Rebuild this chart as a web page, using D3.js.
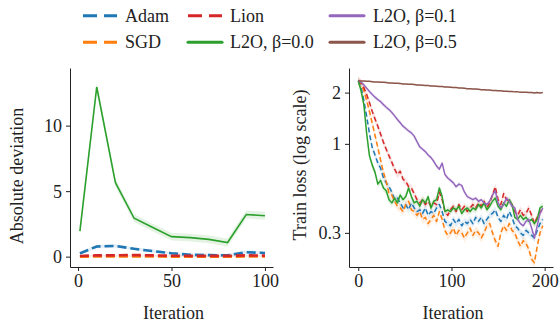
<!DOCTYPE html>
<html>
<head>
<meta charset="utf-8">
<script src="https://cdn.jsdelivr.net/npm/d3@7"></script>
<style>
  html, body { margin: 0; padding: 0; background: #fff; }
  svg { display: block; }
  svg text { font-family: "Liberation Serif", "Times New Roman", serif !important; }
</style>
</head>
<body>
<svg id="chart" width="560" height="327"></svg>
<script>
// ---- data ----
const seriesNames = ["Adam", "SGD", "Lion", "L2O, β=0.0", "L2O, β=0.1", "L2O, β=0.5"];
const seriesColors = ["#1f77b4", "#ff7f0e", "#d62728", "#2ca02c", "#9467bd", "#8c564b"];
const seriesDashed = [true, true, true, false, false, false];

// Left panel: absolute deviation vs iteration
const devIterations = [1, 10, 20, 30, 40, 50, 60, 70, 80, 90, 100];
const devAdam = [0.25, 0.78, 0.82, 0.60, 0.42, 0.26, 0.14, 0.12, 0.10, 0.34, 0.28];
const devSGD  = [0.00, 0.01, 0.01, 0.01, 0.01, 0.00, 0.00, 0.00, 0.00, 0.01, 0.01];
const devLion = [0.05, 0.10, 0.10, 0.12, 0.10, 0.07, 0.06, 0.06, 0.06, 0.10, 0.08];
const devL2O  = [1.95, 12.95, 5.65, 2.93, 2.22, 1.53, 1.45, 1.32, 1.08, 3.22, 3.12];
const devSpread = [0.12, 0.04, 0.05, 0.3];   // half-width of shaded band

// Right panel: train loss vs iteration (every 3rd iteration)
const lossIterations = d3.range(0, 199, 3);
const lossAdam = [2.35, 2.15, 1.80, 1.45, 1.15, 0.95, 0.86, 0.77, 0.72, 0.63, 0.59, 0.56, 0.52, 0.47, 0.48, 0.45, 0.42, 0.44, 0.41, 0.45,
  0.42, 0.40, 0.41, 0.39, 0.42, 0.38, 0.40, 0.39, 0.42, 0.44, 0.40, 0.35, 0.34, 0.33, 0.36, 0.34, 0.36, 0.33, 0.35, 0.34,
  0.36, 0.34, 0.37, 0.35, 0.37, 0.34, 0.36, 0.38, 0.39, 0.41, 0.37, 0.35, 0.38, 0.36, 0.40, 0.37, 0.33, 0.32, 0.30, 0.29,
  0.31, 0.30, 0.29, 0.28, 0.31, 0.34, 0.36];
const lossSGD = [2.35, 2.25, 2.05, 1.80, 1.55, 1.32, 1.12, 0.95, 0.80, 0.68, 0.60, 0.51, 0.50, 0.46, 0.43, 0.42, 0.40, 0.44, 0.46, 0.41,
  0.40, 0.38, 0.40, 0.36, 0.37, 0.34, 0.36, 0.38, 0.35, 0.40, 0.36, 0.31, 0.29, 0.30, 0.32, 0.29, 0.31, 0.30, 0.28, 0.30,
  0.32, 0.29, 0.31, 0.30, 0.28, 0.30, 0.33, 0.34, 0.30, 0.27, 0.25, 0.30, 0.33, 0.31, 0.34, 0.31, 0.30, 0.27, 0.25, 0.27,
  0.26, 0.24, 0.21, 0.20, 0.25, 0.30, 0.33];
const lossLion = [2.35, 2.28, 2.14, 1.95, 1.75, 1.55, 1.40, 1.27, 1.14, 1.02, 0.93, 0.85, 0.78, 0.71, 0.66, 0.69, 0.62, 0.60, 0.56, 0.55,
  0.51, 0.47, 0.45, 0.47, 0.44, 0.46, 0.43, 0.45, 0.44, 0.52, 0.47, 0.40, 0.38, 0.41, 0.43, 0.40, 0.44, 0.41, 0.43, 0.40,
  0.42, 0.44, 0.42, 0.45, 0.43, 0.46, 0.42, 0.45, 0.50, 0.56, 0.47, 0.44, 0.51, 0.47, 0.46, 0.44, 0.40, 0.38, 0.41, 0.38,
  0.39, 0.42, 0.38, 0.34, 0.37, 0.40, 0.41];
const lossL2O0 = [2.35, 2.05, 1.70, 1.15, 0.85, 0.75, 0.68, 0.58, 0.61, 0.55, 0.53, 0.47, 0.45, 0.48, 0.45, 0.50, 0.47, 0.49, 0.55, 0.49,
  0.45, 0.46, 0.43, 0.47, 0.45, 0.49, 0.42, 0.46, 0.47, 0.55, 0.49, 0.40, 0.41, 0.40, 0.42, 0.41, 0.43, 0.39, 0.41, 0.42,
  0.40, 0.42, 0.41, 0.44, 0.42, 0.45, 0.41, 0.43, 0.46, 0.48, 0.43, 0.41, 0.45, 0.43, 0.47, 0.44, 0.37, 0.36, 0.38, 0.36,
  0.37, 0.35, 0.36, 0.34, 0.36, 0.42, 0.43];
const lossL2O1 = [2.35, 2.30, 2.22, 2.12, 2.03, 1.95, 1.88, 1.82, 1.77, 1.70, 1.64, 1.59, 1.53, 1.46, 1.39, 1.33, 1.27, 1.23, 1.19, 1.16,
  1.11, 1.03, 0.96, 0.93, 0.90, 0.86, 0.83, 0.79, 0.74, 0.71, 0.77, 0.66, 0.63, 0.61, 0.59, 0.56, 0.58, 0.57, 0.52, 0.49,
  0.48, 0.47, 0.48, 0.46, 0.47, 0.45, 0.44, 0.46, 0.50, 0.53, 0.45, 0.42, 0.44, 0.48, 0.46, 0.43, 0.42, 0.36, 0.34, 0.33,
  0.35, 0.36, 0.32, 0.28, 0.33, 0.39, 0.42];
const lossL2O5 = [2.35, 2.34, 2.34, 2.33, 2.33, 2.32, 2.31, 2.31, 2.30, 2.30, 2.29, 2.28, 2.28, 2.27, 2.27, 2.26, 2.25, 2.25, 2.24, 2.24,
  2.23, 2.22, 2.22, 2.21, 2.20, 2.20, 2.19, 2.19, 2.18, 2.17, 2.17, 2.16, 2.16, 2.15, 2.14, 2.14, 2.13, 2.13, 2.12, 2.11,
  2.11, 2.10, 2.10, 2.09, 2.08, 2.08, 2.07, 2.07, 2.06, 2.06, 2.05, 2.05, 2.04, 2.04, 2.03, 2.03, 2.02, 2.02, 2.01, 2.01,
  2.01, 2.00, 2.00, 1.99, 2.00, 1.99, 2.00];
const lossSpread = [0.05, 0.06, 0.05, 0.05, 0.03, 0.01];   // relative half-width of shaded band

const devTicksX = [0, 50, 100];
const devTicksY = [0, 5, 10];
const lossTicksX = [0, 100, 200];
const lossTicksY = [0.3, 1, 2];

// ---- drawing ----
const svg = d3.select("#chart");
const FONT = 18;
const SERIF = "'Liberation Serif', 'Times New Roman', serif";

function drawAxes(x, y, xTicks, yTicks, yFormat, xLabel, yLabel, yLabelPos) {
  const [x0] = x.range();
  const [y0] = y.range();
  const gx = svg.append("g").attr("transform", `translate(0,${y0})`)
    .call(d3.axisBottom(x).tickValues(xTicks).tickSize(4).tickSizeOuter(0).tickPadding(3));
  const gy = svg.append("g").attr("transform", `translate(${x0},0)`)
    .call(d3.axisLeft(y).tickValues(yTicks).tickFormat(yFormat).tickSize(4).tickSizeOuter(0).tickPadding(4));
  [gx, gy].forEach(g => {
    g.attr("font-family", SERIF).attr("font-size", FONT);
    g.select(".domain").attr("stroke", "#222").attr("stroke-width", 1);
    g.selectAll(".tick line").attr("stroke", "#222").attr("stroke-width", 1);
    g.selectAll(".tick text").style("font-family", SERIF).style("font-size", FONT + "px").attr("fill", "#222");
  });
  gy.selectAll(".tick text").attr("dy", "0.34em");
  const xr = x.range();
  svg.append("text").attr("x", (xr[0] + xr[1]) / 2 + 2).attr("y", 313)
    .attr("text-anchor", "middle").attr("dominant-baseline", "central")
    .style("font-family", SERIF).style("font-size", FONT + "px").attr("fill", "#222").text(xLabel);
  svg.append("text")
    .attr("transform", `translate(${yLabelPos[0]},${yLabelPos[1]}) rotate(-90)`)
    .attr("text-anchor", "middle").attr("dominant-baseline", "central")
    .style("font-family", SERIF).style("font-size", FONT + "px").attr("fill", "#222").text(yLabel);
}

// Left panel
const xDev = d3.scaleLinear().domain([-4.3, 104.3]).range([70, 273]);
const yDev = d3.scaleLinear().domain([-0.79, 14.4]).range([267, 68]);
const devSeries = [devAdam, devSGD, devLion, devL2O];
const gDev = svg.append("g");
devSeries.forEach((vals, k) => {
  const pts = devIterations.map((it, i) => ({ x: it, v: vals[i] }));
  gDev.append("path").datum(pts)
    .attr("d", d3.area().x(d => xDev(d.x)).y0(d => yDev(d.v - devSpread[k])).y1(d => yDev(d.v + devSpread[k])))
    .attr("fill", seriesColors[k]).attr("opacity", 0.12);
});
devSeries.forEach((vals, k) => {
  const pts = devIterations.map((it, i) => ({ x: it, v: vals[i] }));
  gDev.append("path").datum(pts)
    .attr("d", d3.line().x(d => xDev(d.x)).y(d => yDev(d.v)))
    .attr("fill", "none").attr("stroke", seriesColors[k])
    .attr("stroke-width", seriesDashed[k] ? 2.6 : 1.6)
    .attr("stroke-dasharray", seriesDashed[k] ? "9,4" : null);
});
drawAxes(xDev, yDev, devTicksX, devTicksY, d3.format("d"), "Iteration", "Absolute deviation", [17, 176]);

// Right panel
const xLoss = d3.scaleLinear().domain([-9.95, 208.95]).range([349, 553]);
const yLoss = d3.scaleLog().domain([0.189, 2.79]).range([267, 68]);
const lossSeries = [lossAdam, lossSGD, lossLion, lossL2O0, lossL2O1, lossL2O5];
const gLoss = svg.append("g");
lossSeries.forEach((vals, k) => {
  const pts = lossIterations.map((it, i) => ({ x: it, v: vals[i] }));
  gLoss.append("path").datum(pts)
    .attr("d", d3.area().x(d => xLoss(d.x))
      .y0(d => yLoss(d.v * (1 - lossSpread[k]))).y1(d => yLoss(d.v * (1 + lossSpread[k]))))
    .attr("fill", seriesColors[k]).attr("opacity", 0.12);
});
lossSeries.forEach((vals, k) => {
  const pts = lossIterations.map((it, i) => ({ x: it, v: vals[i] }));
  gLoss.append("path").datum(pts)
    .attr("d", d3.line().x(d => xLoss(d.x)).y(d => yLoss(d.v)))
    .attr("fill", "none").attr("stroke", seriesColors[k])
    .attr("stroke-width", 1.5)
    .attr("stroke-linejoin", "round")
    .attr("stroke-dasharray", seriesDashed[k] ? "5,3" : null);
});
drawAxes(xLoss, yLoss, lossTicksX, lossTicksY, d => d3.format("~g")(d), "Iteration", "Train loss (log scale)", [300, 165]);

// Legend: three columns, two rows, filled column by column
const legendCols = [83, 188, 330];
const legendRows = [15.7, 42.3];
const legend = svg.append("g");
seriesNames.forEach((name, k) => {
  const cx = legendCols[Math.floor(k / 2)];
  const cy = legendRows[k % 2];
  legend.append("line")
    .attr("x1", cx).attr("x2", cx + 34).attr("y1", cy).attr("y2", cy)
    .attr("stroke", seriesColors[k]).attr("stroke-width", 3)
    .attr("stroke-dasharray", seriesDashed[k] ? "14,7" : null)
    .attr("stroke-linecap", seriesDashed[k] ? "butt" : "round");
  legend.append("text")
    .attr("x", cx + 42 + (k >= 4 ? 1 : 0)).attr("y", cy)
    .attr("dominant-baseline", "central")
    .style("font-family", SERIF).style("font-size", FONT + "px").attr("fill", "#222").text(name);
});
</script>
</body>
</html>
